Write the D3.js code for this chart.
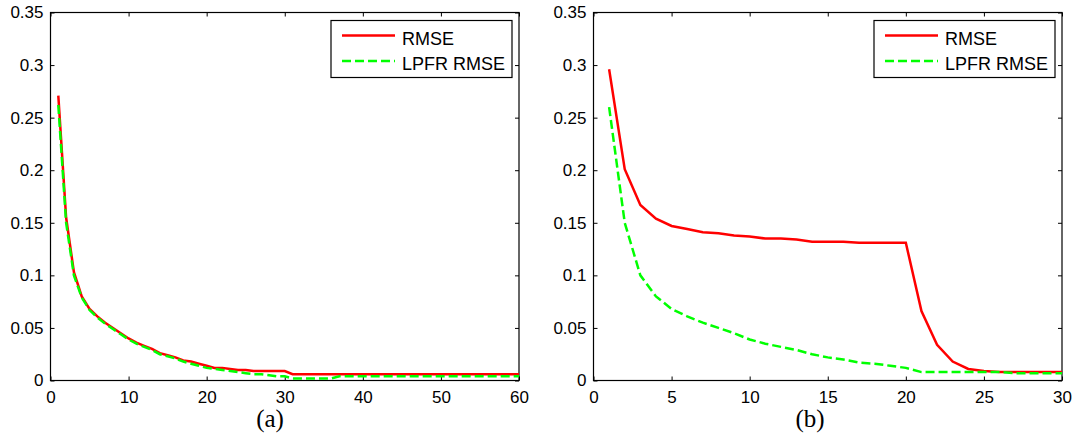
<!DOCTYPE html>
<meta charset="UTF-8">
<style>
body { margin: 0; background: #fff; }
.tick text { font: 17px "Liberation Sans", Arial, sans-serif; fill: #000; }
.tick line { stroke: #000; }
.legend text { font: 18px "Liberation Sans", Arial, sans-serif; fill: #000; }
.caption { font: 25px "Liberation Serif", "Times New Roman", serif; fill: #000; }
</style>
<body>
<script src="https://d3js.org/d3.v7.min.js"></script>
<script>

// panel (a): iterations 1..60
var iterA = d3.range(1, 61);
var rmseA = [0.271, 0.155, 0.103, 0.080, 0.068, 0.061, 0.055, 0.050, 0.045, 0.040,
             0.036, 0.033, 0.030, 0.026, 0.024, 0.022, 0.019, 0.018, 0.016, 0.014,
             0.012, 0.012, 0.011, 0.010, 0.010, 0.009, 0.009, 0.009, 0.009, 0.009,
             0.006, 0.006, 0.006, 0.006, 0.006, 0.006, 0.006, 0.006, 0.006, 0.006,
             0.006, 0.006, 0.006, 0.006, 0.006, 0.006, 0.006, 0.006, 0.006, 0.006,
             0.006, 0.006, 0.006, 0.006, 0.006, 0.006, 0.006, 0.006, 0.006, 0.006];
var lpfrA = [0.262, 0.150, 0.100, 0.079, 0.067, 0.060, 0.054, 0.049, 0.044, 0.039,
             0.035, 0.032, 0.029, 0.025, 0.023, 0.021, 0.018, 0.016, 0.014, 0.012,
             0.011, 0.010, 0.009, 0.008, 0.007, 0.006, 0.006, 0.005, 0.004, 0.004,
             0.002, 0.002, 0.002, 0.002, 0.002, 0.002, 0.004, 0.004, 0.004, 0.004,
             0.004, 0.004, 0.004, 0.004, 0.004, 0.004, 0.004, 0.004, 0.004, 0.004,
             0.004, 0.004, 0.004, 0.004, 0.004, 0.004, 0.004, 0.004, 0.004, 0.004];

// panel (b): iterations 1..30
var iterB = d3.range(1, 31);
var rmseB = [0.296, 0.201, 0.167, 0.154, 0.147, 0.144, 0.141, 0.140, 0.138, 0.137,
             0.135, 0.135, 0.134, 0.132, 0.132, 0.132, 0.131, 0.131, 0.131, 0.131,
             0.066, 0.034, 0.018, 0.011, 0.009, 0.008, 0.008, 0.008, 0.008, 0.008];
var lpfrB = [0.260, 0.150, 0.100, 0.080, 0.068, 0.061, 0.055, 0.050, 0.045, 0.039,
             0.035, 0.032, 0.029, 0.025, 0.022, 0.020, 0.017, 0.016, 0.014, 0.012,
             0.008, 0.008, 0.008, 0.008, 0.008, 0.008, 0.007, 0.007, 0.007, 0.007];

var yTicks = [0, 0.05, 0.1, 0.15, 0.2, 0.25, 0.3, 0.35];
var xTicksA = [0, 10, 20, 30, 40, 50, 60];
var xTicksB = [0, 5, 10, 15, 20, 25, 30];
var seriesNames = ["RMSE", "LPFR RMSE"];
var captions = ["(a)", "(b)"];

var svg = d3.select("body").append("svg")
    .attr("width", 1073)
    .attr("height", 434);

var plotTop = 12.5, plotBottom = 380.5;

function fmt(d) { return d === 0 ? "0" : String(+d.toFixed(2)); }

function panel(left, right, xmax, xTicks, iters, rmse, lpfr, caption, capX) {
  var x = d3.scaleLinear().domain([0, xmax]).range([left, right]);
  var y = d3.scaleLinear().domain([0, 0.35]).range([plotBottom, plotTop]);
  var g = svg.append("g");

  // ticks on all four sides, pointing inward
  g.append("g").attr("transform", "translate(0," + plotBottom + ")")
    .call(d3.axisBottom(x).tickValues(xTicks).tickSize(-4).tickPadding(10).tickFormat(d3.format("d")))
    .call(function(a) { a.select(".domain").remove(); });
  g.append("g").attr("transform", "translate(0," + plotTop + ")")
    .call(d3.axisTop(x).tickValues(xTicks).tickSize(-4).tickFormat(""))
    .call(function(a) { a.select(".domain").remove(); });
  g.append("g").attr("transform", "translate(" + left + ",0)")
    .call(d3.axisLeft(y).tickValues(yTicks).tickSize(-4).tickPadding(7).tickFormat(fmt))
    .call(function(a) { a.select(".domain").remove(); });
  g.append("g").attr("transform", "translate(" + right + ",0)")
    .call(d3.axisRight(y).tickValues(yTicks).tickSize(-4).tickFormat(""))
    .call(function(a) { a.select(".domain").remove(); });

  g.append("rect")
    .attr("x", left).attr("y", plotTop)
    .attr("width", right - left).attr("height", plotBottom - plotTop)
    .attr("fill", "none").attr("stroke", "#000").attr("stroke-width", 1.2);

  var line = d3.line()
    .x(function(d, i) { return x(iters[i]); })
    .y(function(d) { return y(d); });

  g.append("path").datum(rmse)
    .attr("d", line)
    .attr("fill", "none").attr("stroke", "#ff0000").attr("stroke-width", 2.5);
  g.append("path").datum(lpfr)
    .attr("d", line)
    .attr("fill", "none").attr("stroke", "#00ff00").attr("stroke-width", 2.5)
    .attr("stroke-dasharray", "9,4");

  // legend
  var lx = right - 188, ly = 20.5;
  var lg = g.append("g").attr("class", "legend");
  lg.append("rect")
    .attr("x", lx).attr("y", ly).attr("width", 181).attr("height", 57)
    .attr("fill", "#fff").attr("stroke", "#000").attr("stroke-width", 1.2);
  lg.append("line")
    .attr("x1", lx + 11).attr("x2", lx + 64).attr("y1", ly + 15).attr("y2", ly + 15)
    .attr("stroke", "#ff0000").attr("stroke-width", 2.5);
  lg.append("line")
    .attr("x1", lx + 11).attr("x2", lx + 64).attr("y1", ly + 40.5).attr("y2", ly + 40.5)
    .attr("stroke", "#00ff00").attr("stroke-width", 2.5).attr("stroke-dasharray", "9,4");
  lg.selectAll("text").data(seriesNames).enter().append("text")
    .attr("x", lx + 71)
    .attr("y", function(d, i) { return ly + 18 + i * 25.5; })
    .attr("dy", "0.35em")
    .text(function(d) { return d; });

  svg.append("text").attr("class", "caption")
    .attr("x", capX).attr("y", 427)
    .attr("text-anchor", "middle")
    .text(caption);
}

panel(50.5, 519, 60, xTicksA, iterA, rmseA, lpfrA, captions[0], 270);
panel(593.5, 1062, 30, xTicksB, iterB, rmseB, lpfrB, captions[1], 810);

</script>
</body>
